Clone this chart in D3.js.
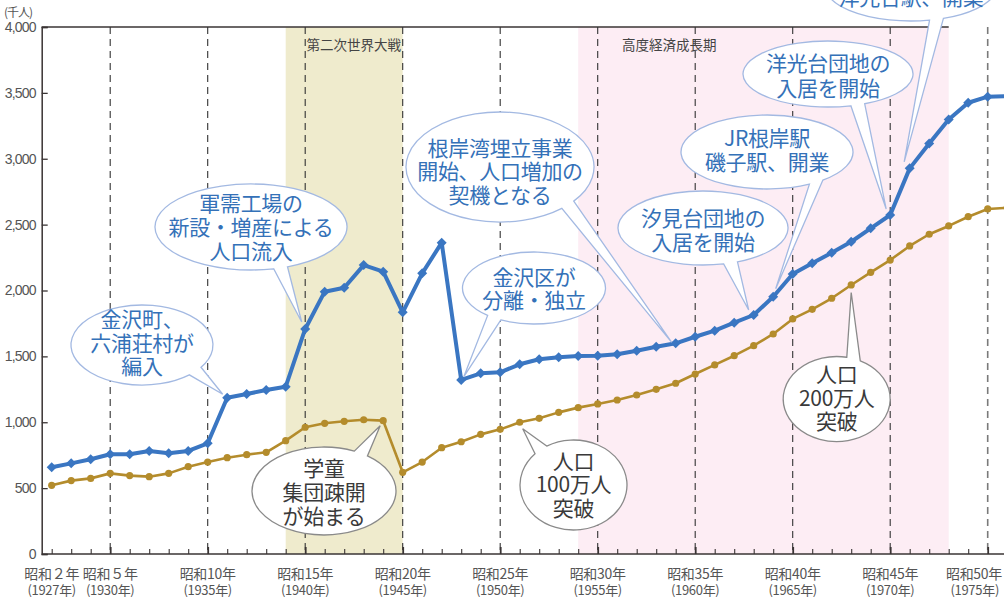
<!DOCTYPE html>
<html>
<head>
<meta charset="utf-8">
<script src="https://cdn.jsdelivr.net/npm/d3@7"></script>
<style>
  html, body { margin: 0; padding: 0; background: #fff; }
  svg { display: block; }
  text { font-family: "Noto Sans CJK JP", "Noto Sans", sans-serif; }
</style>
</head>
<body>
<svg id="chart" width="1004" height="597"></svg>
<script>
// ---- data ----
const years = [1927,1928,1929,1930,1931,1932,1933,1934,1935,1936,1937,1938,1939,1940,1941,1942,1943,1944,1945,1946,1947,1948,1949,1950,1951,1952,1953,1954,1955,1956,1957,1958,1959,1960,1961,1962,1963,1964,1965,1966,1967,1968,1969,1970,1971,1972,1973,1974,1975,1976];
const blueValues = [658,688,719,757,757,782,764,782,840,1186,1214,1245,1270,1708,1991,2021,2193,2143,1834,2130,2363,1321,1371,1379,1440,1478,1493,1503,1505,1516,1543,1573,1599,1649,1695,1756,1814,1953,2125,2206,2287,2370,2472,2573,2927,3115,3298,3425,3471,3475];
const brownValues = [521,557,574,612,595,587,612,663,698,731,754,772,860,962,992,1007,1019,1012,620,698,807,852,908,946,1000,1030,1075,1111,1139,1169,1207,1250,1296,1366,1435,1505,1581,1670,1784,1857,1941,2042,2138,2231,2338,2427,2490,2560,2619,2628];
const yTicks = [0,500,1000,1500,2000,2500,3000,3500,4000];
const xLabelYears = [1927,1930,1935,1940,1945,1950,1955,1960,1965,1970,1975];
const xLabelTop = ["昭和２年","昭和５年","昭和10年","昭和15年","昭和20年","昭和25年","昭和30年","昭和35年","昭和40年","昭和45年","昭和50年"];
const xLabelBottom = ["(1927年)","(1930年)","(1935年)","(1940年)","(1945年)","(1950年)","(1955年)","(1960年)","(1965年)","(1970年)","(1975年)"];
const periods = [
  {from:1939, to:1945, label:"第二次世界大戦", color:"#efebcd"},
  {from:1954, to:1973, label:"高度経済成長期", color:"#fdedf4"}
];
const dashedYears = [1930,1935,1940,1945,1950,1955,1960,1965,1970,1975];

// annotations (layout of callouts)
const notes = [
  {lines:["金沢町、","六浦荘村が","編入"], cx:142, cy:345, rx:71, ry:40, ty:341.5, lh:23.5, base:41, year:1936, s:"blue", dx:-4.5, dy:-3.5, kind:"blue"},
  {lines:["軍需工場の","新設・増産による","人口流入"], cx:251, cy:227, rx:96, ry:43, ty:226, lh:24, base:72, year:1940, s:"blue", dx:-3.5, dy:-7, kind:"blue"},
  {lines:["学童","集団疎開","が始まる"], cx:324, cy:491, rx:72, ry:44, ty:491, lh:24, base:-59, year:1944, s:"brown", dx:-3, dy:5, kind:"gray"},
  {lines:["根岸湾埋立事業","開始、人口増加の","契機となる"], cx:500, cy:167, rx:94, ry:55, ty:170, lh:23.5, base:43.6, year:1959, s:"blue", dx:-4, dy:-1, kind:"blue"},
  {lines:["金沢区が","分離・独立"], cx:534, cy:288, rx:71.5, ry:36, ty:287.5, lh:23.5, base:124, year:1948, s:"blue", dx:2.5, dy:-3, kind:"blue"},
  {lines:["汐見台団地の","入居を開始"], cx:703, cy:228, rx:85, ry:37, ty:229, lh:23.5, base:71, year:1963, s:"blue", dx:-5, dy:-5, kind:"blue"},
  {lines:["JR根岸駅","磯子駅、開業"], cx:767, cy:152, rx:86, ry:37, ty:148.7, lh:24, base:55, year:1964, s:"blue", dx:2.5, dy:-8, kind:"blue"},
  {lines:["洋光台団地の","入居を開始"], cx:828, cy:74, rx:85, ry:33, ty:74.5, lh:25, base:69.4, year:1970, s:"blue", dx:-4, dy:-6, kind:"blue"},
  {lines:["洋光台駅、開業"], cx:911, cy:-14, rx:86, ry:35, ty:-4, lh:24, base:72.7, year:1971, s:"blue", dx:-5.5, dy:-6.5, kind:"blue"},
  {lines:["人口","100万人","突破"], cx:573.5, cy:485, rx:53.5, ry:45, ty:483.3, lh:23.3, base:-128, year:1951, s:"brown", dx:3, dy:6.5, kind:"gray"},
  {lines:["人口","200万人","突破"], cx:836.7, cy:399, rx:53.5, ry:42.5, ty:396.7, lh:23.3, base:-71.5, year:1968, s:"brown", dx:0, dy:7.5, kind:"gray"}
];

// ---- layout ----
const svg = d3.select("#chart");
const plotLeft = 41.7, plotTop = 27, plotBottom = 554, plotRight = 1004;
const x = d3.scaleLinear().domain([1927, 1975]).range([51.7, 987.7]);
const y = d3.scaleLinear().domain([0, 4000]).range([plotBottom, plotTop]);
const BLUE = "#3a76c2", BROWN = "#b48c2c";

// period bands
svg.append("g").selectAll("rect").data(periods).join("rect")
  .attr("x", d => x(d.from)).attr("width", d => x(d.to) - x(d.from))
  .attr("y", plotTop).attr("height", plotBottom - plotTop).attr("fill", d => d.color);

// top frame line
svg.append("line").attr("x1", plotLeft).attr("x2", x(1973)).attr("y1", plotTop).attr("y2", plotTop)
  .attr("stroke", "#3a3434").attr("stroke-width", 1.3);

// dashed verticals
svg.append("g").selectAll("line").data(dashedYears).join("line")
  .attr("x1", d => x(d)).attr("x2", d => x(d)).attr("y1", plotTop).attr("y2", plotBottom)
  .attr("stroke", d => d === 1975 ? "#7a7a7a" : "#333").attr("stroke-width", d => d === 1975 ? 1.6 : 1.1)
  .attr("stroke-dasharray", "7,5");

// period labels
svg.append("g").selectAll("text").data(periods).join("text")
  .attr("x", (d, i) => i === 0 ? 306.5 : 622).attr("y", 44)
  .attr("dominant-baseline", "central").attr("font-size", 13.5).attr("fill", "#444")
  .text(d => d.label);

// y axis
const yAxis = d3.axisLeft(y).tickValues(yTicks).tickSize(-6).tickPadding(12)
  .tickFormat(d3.format(","));
const gy = svg.append("g").attr("transform", `translate(${plotLeft},0)`).call(yAxis);
gy.select(".domain").attr("stroke", "#3a3434").attr("stroke-width", 1.5);
gy.selectAll(".tick line").attr("stroke", "#3a3434").attr("stroke-width", 1.3);
gy.selectAll(".tick text").attr("font-size", 14).attr("fill", "#555").attr("letter-spacing", -0.8)
  .attr("x", -6).style("font-family", "'Liberation Sans', 'Noto Sans', sans-serif");

svg.append("text").attr("x", 4).attr("y", 11).attr("dominant-baseline", "central")
  .attr("font-size", 12).attr("fill", "#555").attr("letter-spacing", -1).text("(千人)");

// x axis
const xAxis = d3.axisBottom(x).tickValues(years).tickSizeInner(-5).tickSizeOuter(0).tickFormat("");
const gx = svg.append("g").attr("transform", `translate(0,${plotBottom})`).call(xAxis);
gx.select(".domain").attr("d", `M${plotLeft},0H${plotRight}`).attr("stroke", "#3a3434").attr("stroke-width", 1.6);
gx.selectAll(".tick line").attr("stroke", "#3a3434")
  .attr("stroke-width", d => d % 5 === 0 ? 1.8 : 1.1)
  .attr("y2", d => d % 5 === 0 ? -7 : -5);

const lastYear = xLabelYears[xLabelYears.length - 1];
const xl = svg.append("g");
xl.selectAll("text.t1").data(xLabelYears).join("text").attr("class", "t1")
  .attr("x", d => d === lastYear ? 1002 : x(d)).attr("y", 573)
  .attr("text-anchor", d => d === lastYear ? "end" : "middle").attr("dominant-baseline", "central")
  .attr("font-size", 14).attr("fill", "#555").attr("letter-spacing", -0.3)
  .text((d, i) => xLabelTop[i]);
xl.selectAll("text.t2").data(xLabelYears).join("text").attr("class", "t2")
  .attr("x", d => d === lastYear ? 999 : x(d)).attr("y", 589)
  .attr("text-anchor", d => d === lastYear ? "end" : "middle").attr("dominant-baseline", "central")
  .attr("font-size", 13).attr("fill", "#555").attr("letter-spacing", -0.3)
  .text((d, i) => xLabelBottom[i]);

// lines
const blueData = years.map((yr, i) => ({yr, v: blueValues[i]}));
const brownData = years.map((yr, i) => ({yr, v: brownValues[i]}));
const line = d3.line().x(d => x(d.yr)).y(d => y(d.v));

svg.append("path").datum(brownData).attr("d", line).attr("fill", "none")
  .attr("stroke", BROWN).attr("stroke-width", 2.6).attr("stroke-linejoin", "round");
svg.append("g").selectAll("circle").data(brownData).join("circle")
  .attr("cx", d => x(d.yr)).attr("cy", d => y(d.v)).attr("r", 3.6).attr("fill", BROWN);

svg.append("path").datum(blueData).attr("d", line).attr("fill", "none")
  .attr("stroke", BLUE).attr("stroke-width", 4).attr("stroke-linejoin", "round");
svg.append("g").selectAll("path").data(blueData).join("path")
  .attr("d", d => { const cx = x(d.yr), cy = y(d.v), r = 5; return `M${cx},${cy-r}L${cx+r},${cy}L${cx},${cy+r}L${cx-r},${cy}Z`; })
  .attr("fill", BLUE);

// callouts
function bubblePath(n) {
  const seriesVals = n.s === "blue" ? blueValues : brownValues;
  const v = seriesVals[years.indexOf(n.year)];
  const tx = x(n.year) + n.dx, tyy = y(v) + n.dy;
  const t0 = n.base * Math.PI / 180;
  const hw = 7;
  const speed = Math.sqrt(Math.pow(n.rx * Math.sin(t0), 2) + Math.pow(n.ry * Math.cos(t0), 2));
  const dl = hw / speed;
  const p = t => [n.cx + n.rx * Math.cos(t), n.cy + n.ry * Math.sin(t)];
  const a = p(t0 + dl), b = p(t0 - dl);
  return `M${b[0]},${b[1]}L${tx},${tyy}L${a[0]},${a[1]}A${n.rx},${n.ry} 0 1 1 ${b[0]},${b[1]}Z`;
}
const gn = svg.append("g");
notes.forEach(n => {
  const g = gn.append("g");
  g.append("path").attr("d", bubblePath(n)).attr("fill", "#fff")
    .attr("stroke", n.kind === "blue" ? "#a3b9e2" : "#8a8a8a").attr("stroke-width", 1.3)
    .attr("stroke-linejoin", "miter");
  const start = n.ty - (n.lines.length - 1) * n.lh / 2;
  g.selectAll("text").data(n.lines).join("text")
    .attr("x", n.cx).attr("y", (d, i) => start + i * n.lh)
    .attr("text-anchor", "middle").attr("dominant-baseline", "central")
    .attr("font-size", 21).attr("fill", n.kind === "blue" ? "#3471b8" : "#3a3a3a")
    .attr("letter-spacing", -0.3)
    .text(d => d);
});
</script>
</body>
</html>
